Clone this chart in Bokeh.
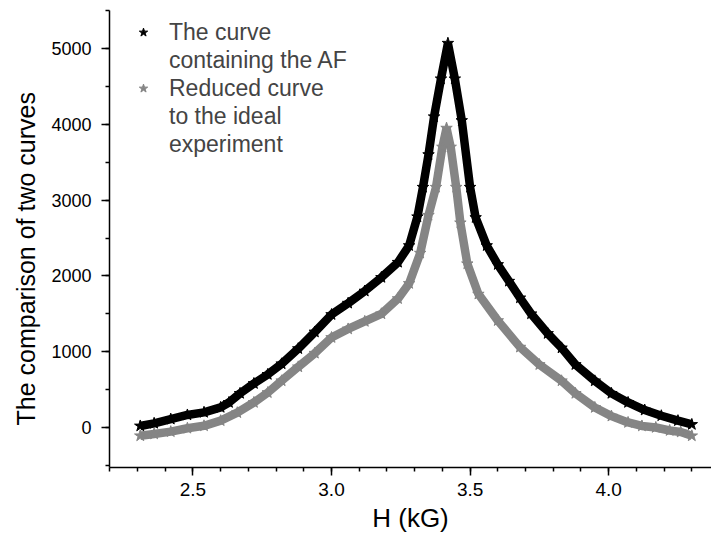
from bokeh.plotting import figure
from bokeh.models import (Range1d, SingleIntervalTicker, LinearAxis, Legend, LegendItem,
                          PrintfTickFormatter, Title)
from bokeh.embed import file_html
from bokeh.resources import INLINE

# ---- data ----
af_x = [2.31, 2.36, 2.42, 2.48, 2.54, 2.60, 2.63, 2.67, 2.72, 2.77, 2.82, 2.88, 2.94,
        3.00, 3.06, 3.12, 3.18, 3.24, 3.28, 3.31, 3.33, 3.35, 3.37, 3.395, 3.42,
        3.445, 3.47, 3.50, 3.52, 3.56, 3.60, 3.64, 3.68, 3.72, 3.78, 3.83, 3.88,
        3.95, 4.01, 4.07, 4.13, 4.19, 4.25, 4.30]
af_y = [20, 55, 110, 165, 200, 265, 330, 450, 580, 700, 840, 1040, 1260,
        1490, 1640, 1800, 1980, 2180, 2400, 2780, 3170, 3600, 4100, 4600, 5070,
        4600, 4050, 3170, 2770, 2400, 2150, 1930, 1710, 1500, 1240, 1050, 830,
        615, 450, 330, 230, 155, 90, 40]

ideal_x = [2.31, 2.36, 2.42, 2.48, 2.54, 2.60, 2.66, 2.72, 2.77, 2.82, 2.88, 2.94,
           3.00, 3.06, 3.12, 3.18, 3.24, 3.28, 3.32, 3.35, 3.377, 3.40, 3.415,
           3.43, 3.45, 3.465, 3.49, 3.53, 3.60, 3.68, 3.75, 3.83, 3.88, 3.95,
           4.01, 4.07, 4.12, 4.17, 4.22, 4.26, 4.30]
ideal_y = [-110, -85, -55, -10, 22, 90, 195, 330, 460, 616, 800, 980,
           1187, 1300, 1400, 1500, 1700, 1900, 2300, 2800, 3170, 3700, 3950,
           3700, 3170, 2700, 2160, 1760, 1410, 1060, 830, 616, 450, 264,
           150, 66, 20, 0, -40, -60, -110]

legend_lines_af = ["The curve", "containing the AF"]
legend_lines_ideal = ["Reduced curve", "to the ideal", "experiment"]
x_title = "H (kG)"
y_title = "The comparison of two curves"

BLACK = "#000000"
GRAY = "#858585"
FONT = "Liberation Sans"

p = figure(width=711, height=541, output_backend="svg", toolbar_location=None,
           x_range=Range1d(2.199, 4.371), y_range=Range1d(-528, 5502),
           x_axis_location=None, y_axis_location=None,
           min_border_left=109, min_border_right=0, min_border_top=10, min_border_bottom=74)
p.outline_line_color = None
p.xgrid.visible = False
p.ygrid.visible = False
p.background_fill_color = "white"
p.border_fill_color = "white"

xaxis = LinearAxis(ticker=SingleIntervalTicker(interval=0.5, num_minor_ticks=5),
                   formatter=PrintfTickFormatter(format="%.1f"),
                   axis_label=x_title)
yaxis = LinearAxis(ticker=SingleIntervalTicker(interval=1000, num_minor_ticks=2))
for ax in (xaxis, yaxis):
    ax.axis_line_width = 1.5
    ax.major_tick_line_width = 1.5
    ax.minor_tick_line_width = 1.5
    ax.major_tick_in = 0
    ax.major_tick_out = 8
    ax.minor_tick_in = 0
    ax.minor_tick_out = 4
    ax.axis_label_text_font = FONT
    ax.major_label_text_font = FONT
    ax.axis_label_text_font_style = "normal"
    ax.axis_label_text_color = "black"
    ax.major_label_text_color = "black"
    ax.axis_line_color = "black"
    ax.major_tick_line_color = "black"
    ax.minor_tick_line_color = "black"
xaxis.major_label_text_font_size = "19px"
xaxis.axis_label_text_font_size = "26px"
xaxis.major_label_standoff = 7
xaxis.axis_label_standoff = 4
yaxis.major_label_text_font_size = "18px"
yaxis.major_label_standoff = 10
p.add_layout(xaxis, "below")
p.add_layout(yaxis, "left")

ytitle = Title(text=y_title, align="left", offset=42, standoff=18, text_font=FONT,
               text_font_size="25px", text_font_style="normal", text_color="black")
p.add_layout(ytitle, "left")

l1 = p.line(af_x, af_y, line_width=8.5, line_color=BLACK)
s1 = p.scatter(af_x, af_y, marker="star", size=12, fill_color=BLACK, line_color=BLACK)
l2 = p.line(ideal_x, ideal_y, line_width=8.5, line_color=GRAY)
s2 = p.scatter(ideal_x, ideal_y, marker="star", size=12, fill_color=GRAY, line_color=GRAY)

items = [LegendItem(label=legend_lines_af[0], renderers=[s1])]
items += [LegendItem(label=t, renderers=[]) for t in legend_lines_af[1:]]
items += [LegendItem(label=legend_lines_ideal[0], renderers=[s2])]
items += [LegendItem(label=t, renderers=[]) for t in legend_lines_ideal[1:]]

legend = Legend(items=items, location="top_left", margin=8, padding=0,
                glyph_width=52, glyph_height=22, label_height=28,
                label_standoff=0, spacing=0, label_text_font=FONT,
                label_text_font_size="23px",
                border_line_color=None, background_fill_alpha=0)
p.add_layout(legend)

open("out.html", "w").write(file_html(p, INLINE))
